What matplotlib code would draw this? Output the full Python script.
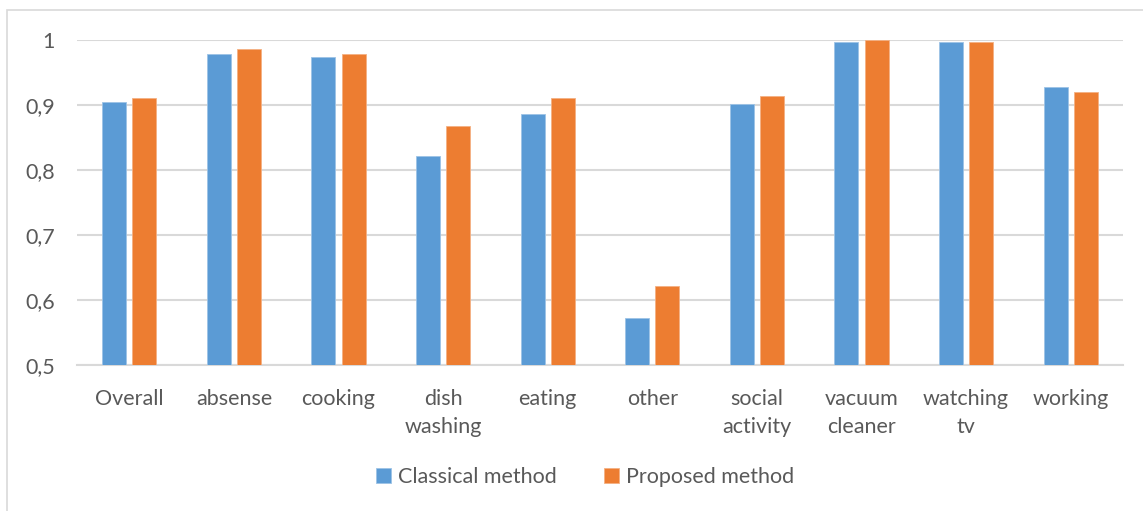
import matplotlib
matplotlib.use("Agg")
import matplotlib.pyplot as plt
import matplotlib.patches as mpatches
import numpy as np

categories = ["Overall", "absense", "cooking", "dish\nwashing", "eating", "other",
              "social\nactivity", "vacuum\ncleaner", "watching\ntv", "working"]
classical = [0.904, 0.978, 0.974, 0.821, 0.886, 0.572, 0.901, 0.997, 0.997, 0.928]
proposed = [0.911, 0.986, 0.978, 0.867, 0.910, 0.621, 0.914, 1.000, 0.997, 0.920]
yticks = [0.5, 0.6, 0.7, 0.8, 0.9, 1.0]
ytick_labels = ["0,5", "0,6", "0,7", "0,8", "0,9", "1"]
series_names = ["Classical method", "Proposed method"]

plt.rcParams['font.family'] = ['Lato', 'DejaVu Sans']
W, H = 1143, 511
fig = plt.figure(figsize=(W / 100, H / 100), dpi=100)
ax = fig.add_axes([77 / W, 1 - 365 / H, (1123 - 77) / W, (365 - 40) / H])

text_color = "#595959"
grid_color = "#d9d9d9"
blue = "#5B9BD5"
orange = "#ED7D31"

x = np.arange(len(categories))
bw = 0.23
gap = 0.06
ax.bar(x - (bw + gap) / 2, classical, bw, color=blue, label=series_names[0], zorder=3,
       edgecolor="#9dc3e6", linewidth=0.6)
ax.bar(x + (bw + gap) / 2, proposed, bw, color=orange, label=series_names[1], zorder=3,
       edgecolor="#f4b183", linewidth=0.6)

ax.set_xlim(-0.5, len(categories) - 0.5)
ax.set_ylim(0.5, 1.0)
ax.set_yticks(yticks)
ax.set_yticklabels(ytick_labels)
ax.set_xticks(x)
ax.set_xticklabels(categories, linespacing=1.55)
ax.yaxis.grid(True, color=grid_color, linewidth=1.5, zorder=0)
ax.set_axisbelow(True)
for s in ["top", "right", "left"]:
    ax.spines[s].set_visible(False)
ax.spines["bottom"].set_color(grid_color)
ax.spines["bottom"].set_linewidth(1.5)
ax.tick_params(axis="both", length=0, colors=text_color, labelsize=15.5)
ax.tick_params(axis="x", pad=17)
ax.tick_params(axis="y", pad=16)

# chart border
border = mpatches.Rectangle((7 / W, -0.1), 2, 1.1 - 10 / H, transform=fig.transFigure,
                            fill=False, edgecolor=grid_color, linewidth=1.2)
fig.patches.append(border)

leg = fig.legend(loc="center", bbox_to_anchor=(585 / W, 1 - 477 / H), ncol=2, frameon=False,
                 fontsize=15.5, handlelength=0.7, handleheight=0.7, handletextpad=0.3,
                 columnspacing=2.2)
for t in leg.get_texts():
    t.set_color(text_color)

fig.savefig("out.png", dpi=100)
